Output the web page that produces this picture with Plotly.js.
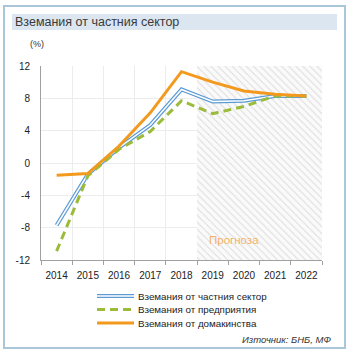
<!DOCTYPE html>
<html>
<head>
<meta charset="utf-8">
<script src="https://cdn.plot.ly/plotly-3.0.1.min.js"></script>
<style>
html,body{margin:0;padding:0;background:#fff;}
#chart{width:350px;height:359px;}
</style>
</head>
<body>
<div id="chart"></div>
<script>
const years = ['2014','2015','2016','2017','2018','2019','2020','2021','2022'];
const privateSector = [-7.7, -1.4, 1.9, 4.7, 9.1, 7.6, 7.7, 8.3, 8.3];
const enterprises = [-10.9, -1.6, 1.7, 3.9, 7.7, 6.1, 7.0, 8.3, 8.3];
const households = [-1.5, -1.3, 2.1, 6.2, 11.3, 10.0, 8.9, 8.5, 8.3];
const forecastYears = ['2019','2020','2021','2022'];
const yMin = -12, yMax = 12;
const yTicks = [-12, -8, -4, 0, 4, 8, 12];
const chartTitle = 'Вземания от частния сектор';
const unitLabel = '(%)';
const forecastLabel = 'Прогноза';
const sourceLabel = 'Източник: БНБ, МФ';
const seriesNames = ['Вземания от частния сектор', 'Вземания от предприятия', 'Вземания от домакинства'];

const FONT = 'Liberation Sans, Arial, sans-serif';
const blue = '#5b9bd5', green = '#9bbb3b', orange = '#f39a1e';

const traces = [
  {
    type: 'bar', x: forecastYears, y: forecastYears.map(() => yMax - yMin), base: yMin,
    width: 1, showlegend: false, hoverinfo: 'skip',
    marker: {color: '#fafafa', line: {width: 0},
      pattern: {shape: '\\', fgcolor: '#dcdcdc', bgcolor: '#fafafa', size: 5, solidity: 0.2}}
  },
  {type: 'scatter', mode: 'lines', x: years, y: privateSector, name: seriesNames[0],
   line: {color: blue, width: 4}, showlegend: false},
  {type: 'scatter', mode: 'lines', x: years, y: privateSector, name: seriesNames[0],
   line: {color: '#ffffff', width: 1.5}, showlegend: false, hoverinfo: 'skip'},
  {type: 'scatter', mode: 'lines', x: years, y: enterprises, name: seriesNames[1],
   line: {color: green, width: 3, dash: '8px,5px'}, showlegend: false},
  {type: 'scatter', mode: 'lines', x: years, y: households, name: seriesNames[2],
   line: {color: orange, width: 3}, showlegend: false}
];

// pixel -> paper helpers (plot area: x 41..322, y 66..260)
const L = 41, R = 28, T = 66, B = 99, W = 350, H = 359;
const pw = W - L - R, ph = H - T - B;
const px = v => (v - L) / pw;
const py = v => (H - B - v) / ph;

const shapes = [
  {type: 'rect', xref: 'paper', yref: 'paper', x0: px(4), x1: px(345), y0: py(6), y1: py(348),
   line: {color: '#a9c7d8', width: 2}, fillcolor: 'rgba(0,0,0,0)', layer: 'below'},
  {type: 'rect', xref: 'paper', yref: 'paper', x0: px(12), x1: px(337), y0: py(14), y1: py(30),
   line: {width: 0}, fillcolor: '#dce6f0', layer: 'below'},
  // legend samples
  {type: 'line', xref: 'paper', yref: 'paper', x0: px(97), x1: px(134), y0: py(296), y1: py(296),
   line: {color: blue, width: 4}},
  {type: 'line', xref: 'paper', yref: 'paper', x0: px(97), x1: px(134), y0: py(296), y1: py(296),
   line: {color: '#ffffff', width: 1.5}},
  {type: 'line', xref: 'paper', yref: 'paper', x0: px(97), x1: px(134), y0: py(309.5), y1: py(309.5),
   line: {color: green, width: 3, dash: '8px,5px'}},
  {type: 'line', xref: 'paper', yref: 'paper', x0: px(97), x1: px(134), y0: py(323), y1: py(323),
   line: {color: orange, width: 3}}
];

const annotations = [
  {xref: 'paper', yref: 'paper', x: px(13), y: py(22), xanchor: 'left', yanchor: 'middle',
   text: chartTitle, showarrow: false, font: {family: FONT, size: 12.5, color: '#3a3a3a'}},
  {xref: 'paper', yref: 'paper', x: px(28), y: py(44), xanchor: 'left', yanchor: 'middle',
   text: unitLabel, showarrow: false, font: {family: FONT, size: 9, color: '#333'}},
  {xref: 'paper', yref: 'paper', x: px(234), y: py(240), xanchor: 'center', yanchor: 'middle',
   text: forecastLabel, showarrow: false, font: {family: FONT, size: 11.5, color: '#f5b26b'}},
  {xref: 'paper', yref: 'paper', x: px(136), y: py(296), xanchor: 'left', yanchor: 'middle',
   text: seriesNames[0], showarrow: false, font: {family: FONT, size: 9.8, color: '#222'}},
  {xref: 'paper', yref: 'paper', x: px(136), y: py(309.5), xanchor: 'left', yanchor: 'middle',
   text: seriesNames[1], showarrow: false, font: {family: FONT, size: 9.8, color: '#222'}},
  {xref: 'paper', yref: 'paper', x: px(136), y: py(323), xanchor: 'left', yanchor: 'middle',
   text: seriesNames[2], showarrow: false, font: {family: FONT, size: 9.8, color: '#222'}},
  {xref: 'paper', yref: 'paper', x: px(333), y: py(339), xanchor: 'right', yanchor: 'middle',
   text: '<i>' + sourceLabel + '</i>', showarrow: false, font: {family: FONT, size: 9.5, color: '#333'}}
];

const layout = {
  width: W, height: H,
  margin: {l: L, r: R, t: T, b: B, pad: 0},
  paper_bgcolor: '#ffffff', plot_bgcolor: '#ffffff',
  showlegend: false,
  bargap: 0,
  font: {family: FONT, size: 10, color: '#222'},
  xaxis: {
    type: 'category', categoryorder: 'array', categoryarray: years,
    range: [-0.5, years.length - 0.5],
    tickson: 'boundaries', ticks: 'outside', ticklen: 4, tickcolor: '#a0a0a0',
    tickangle: 0, ticklabelstandoff: 6,
    showgrid: true, gridcolor: '#ececec', gridwidth: 1,
    showline: true, linecolor: '#a0a0a0', linewidth: 1,
    tickfont: {family: FONT, size: 10, color: '#222'}, zeroline: false, fixedrange: true
  },
  yaxis: {
    range: [yMin, yMax], tickvals: yTicks, ticktext: yTicks.map(String),
    showgrid: true, gridcolor: '#ececec', gridwidth: 1,
    showline: true, linecolor: '#a0a0a0', linewidth: 1,
    ticks: '', ticklabelstandoff: 8,
    zeroline: false, tickfont: {family: FONT, size: 10, color: '#222'}, fixedrange: true
  },
  shapes: shapes,
  annotations: annotations
};

Plotly.newPlot('chart', traces, layout, {staticPlot: true, displayModeBar: false});
</script>
</body>
</html>
